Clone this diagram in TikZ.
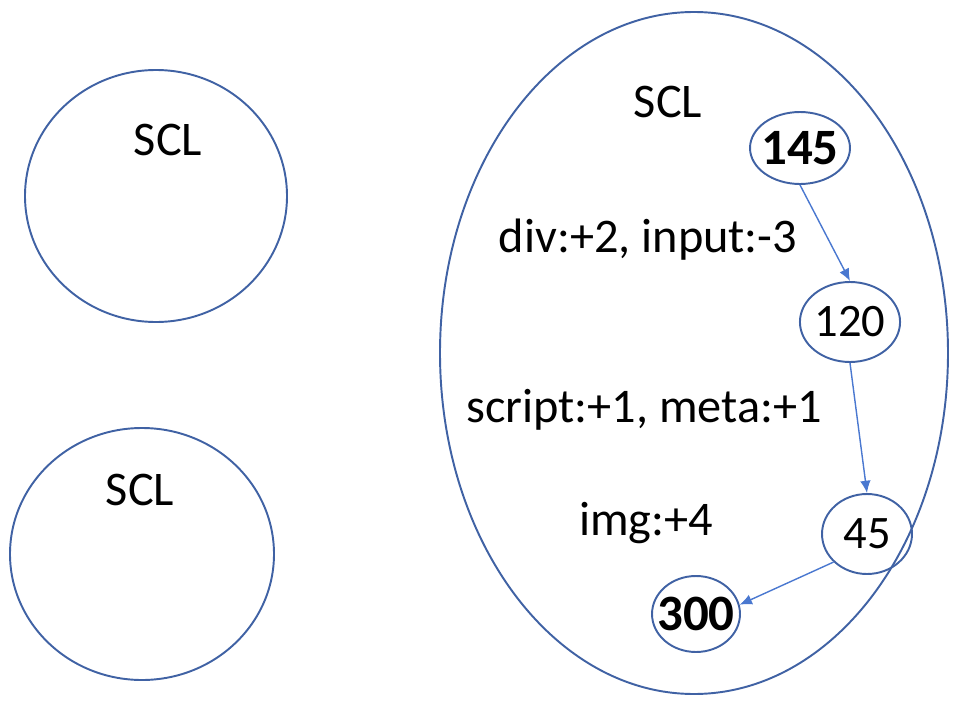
\documentclass[tikz,border=0pt]{standalone}
\usepackage{fontspec}
\setmainfont{Carlito}
\usetikzlibrary{shapes.geometric,arrows.meta}

\definecolor{sclblue}{HTML}{4062A4}
\definecolor{arrblue}{HTML}{4A78D0}

\tikzset{
  scl/.style={draw=sclblue, line width=1.1pt},
  num/.style={ellipse, draw=sclblue, line width=1.1pt, inner sep=0pt, font=\fontsize{26.5}{28}\selectfont},
  bignum/.style={num, inner sep=-8pt, font=\fontsize{29}{31}\selectfont\bfseries},
  lbl/.style={font=\fontsize{27.5}{30}\selectfont},
  flow/.style={draw=arrblue, line width=0.8pt, -{Latex[length=7pt,width=6pt]}}
}

\begin{document}
\begin{tikzpicture}[x=0.02cm,y=-0.02cm]
  \useasboundingbox (0,0) rectangle (954,703);

  % the three clusters
  \draw[scl] (156,196) ellipse [x radius=131, y radius=126];
  \draw[scl] (142,554) ellipse [x radius=132, y radius=126];
  \draw[scl] (694,353) ellipse [x radius=254, y radius=341];

  \node[lbl] (sclA) at (168,140) {SCL};
  \node[lbl] (sclB) at (140,490) {SCL};
  \node[lbl] (sclC) at (668,102) {SCL};

  % path inside the big one
  \node[bignum, minimum width=2cm, minimum height=1.44cm] (n145) at (800,148) {145};
  \node[num, minimum width=1.8cm, minimum height=1.6cm] (n120) at (850,322) {120};
  \node[num, minimum width=1.8cm, minimum height=1.6cm] (n45) at (867,534) {45};
  \node[bignum, minimum width=1.76cm, minimum height=1.52cm] (n300) at (696,614) {300};

  \node[lbl] (d1) at (648,240) {div:+2, input:-3};
  \node[lbl] (d2) at (644,410) {script:+1, meta:+1};
  \node[lbl] (d3) at (646,523) {img:+4};

  \draw[flow] (n145.south) -- (n120.north);
  \draw[flow] (n120.south) -- (n45.north);
  \draw[flow] (n45.220) -- (n300.12);
\end{tikzpicture}
\end{document}
